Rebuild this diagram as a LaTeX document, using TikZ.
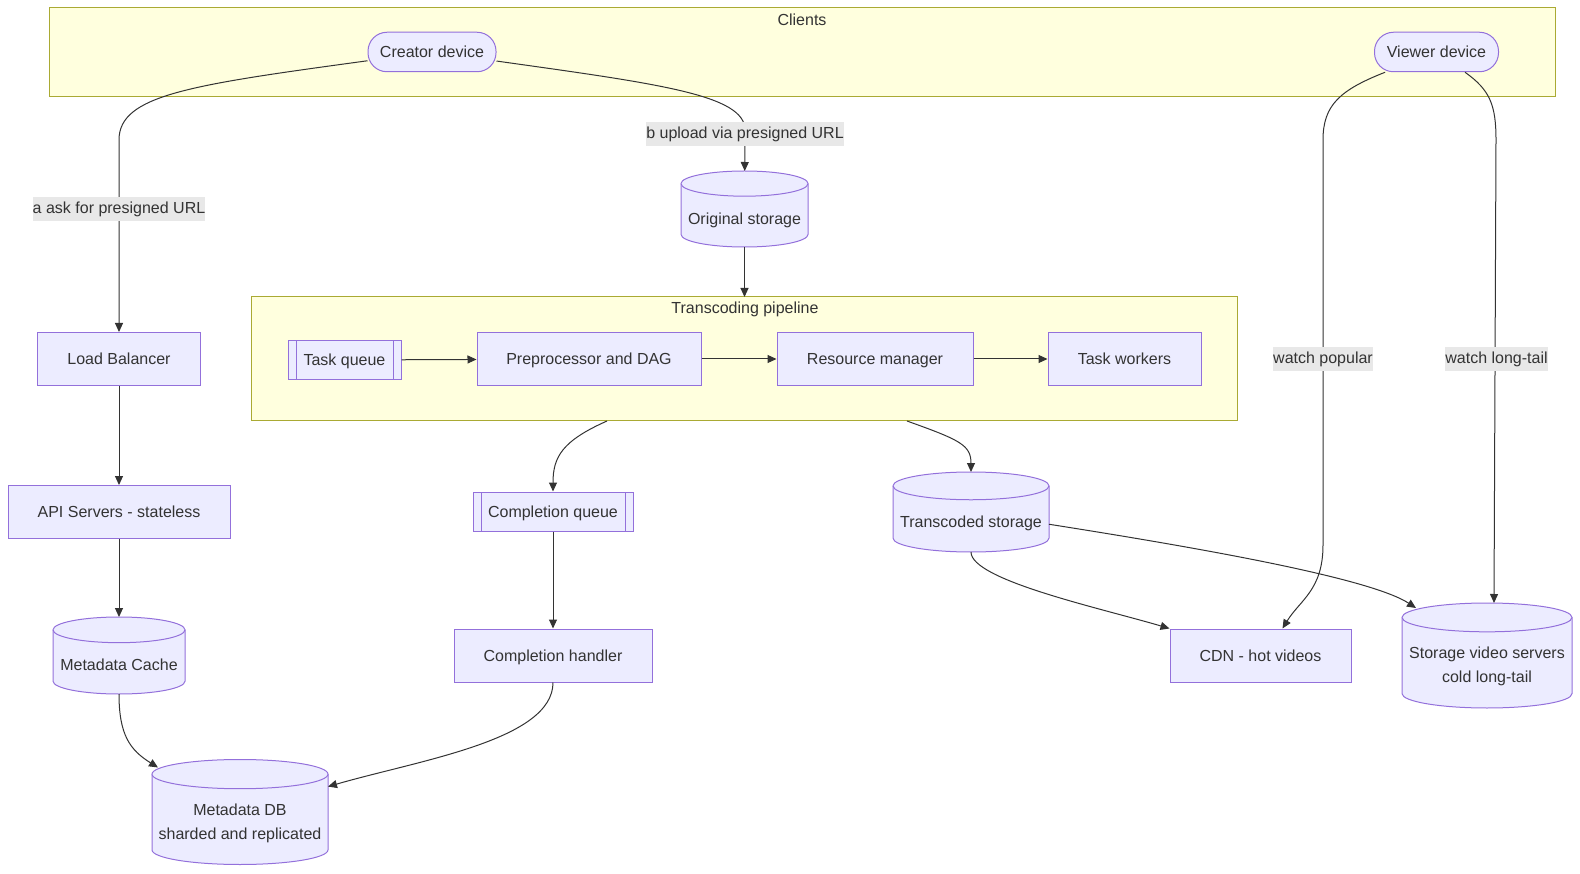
\documentclass[tikz,border=0pt]{standalone}
\usepackage{fontspec}
\setmainfont{Liberation Sans}
\usepackage{tikz}
\usetikzlibrary{
    positioning,
    arrows.meta
}
\definecolor{nodeFill}{HTML}{ECECFF}
\definecolor{nodeLine}{HTML}{9370DB}
\definecolor{groupFill}{HTML}{FFFFDE}
\definecolor{groupLine}{HTML}{AAAA33}
\definecolor{inkGrey}{HTML}{333333}
\definecolor{labelGrey}{HTML}{E8E8E8}

% storage cylinder: [text options]{name}{x}{y}{width}{height}{text}
\newcommand{\storenode}[7][]{%
    \node[storeframe, minimum width=#5pt, minimum height=#6pt] (#2) at (#3,#4) {};
    \pgfmathsetmacro{\caprx}{#5/2}
    \pgfmathsetmacro{\capry}{#5/2/(2.5+#5/50)}
    \filldraw[storeline] ([yshift=-\capry pt]#2.north west) -- ([yshift=\capry pt]#2.south west)
        arc[start angle=180, end angle=360, x radius=\caprx pt, y radius=\capry pt]
        -- ([yshift=-\capry pt]#2.north east)
        arc[start angle=0, end angle=180, x radius=\caprx pt, y radius=\capry pt] -- cycle;
    \draw[storeline] ([yshift=-\capry pt]#2.north west)
        arc[start angle=180, end angle=360, x radius=\caprx pt, y radius=\capry pt];
    \node[storetext, #1] (#2-text) at ([yshift=-9.5pt]#2.center) {#7};
}

\begin{document}
\begin{tikzpicture}[x=1pt, y=-1pt,
    every node/.style={text=inkGrey, font=\fontsize{16}{24}\selectfont},
    group/.style={draw=groupLine, fill=groupFill, line width=1pt},
    box/.style={draw=nodeLine, fill=nodeFill, line width=1pt, minimum height=53pt,
        inner sep=0pt, text height=14pt, text depth=2.5pt},
    device/.style={box, rounded corners=19pt, minimum height=39.5pt},
    queue/.style={box, minimum height=38.5pt,
        path picture={
            \draw[nodeLine, line width=1pt] ([xshift=8pt]path picture bounding box.north west) -- ([xshift=8pt]path picture bounding box.south west);
            \draw[nodeLine, line width=1pt] ([xshift=-8pt]path picture bounding box.north east) -- ([xshift=-8pt]path picture bounding box.south east);
        }},
    storeframe/.style={inner sep=0pt, outer sep=0pt},
    storeline/.style={draw=nodeLine, fill=nodeFill, line width=1pt},
    storetext/.style={inner sep=0pt, align=center, text height=14pt, text depth=2.5pt},
    edgelabel/.style={fill=labelGrey, inner xsep=0pt, inner ysep=4pt, text height=13pt, text depth=3pt},
    link/.style={draw=inkGrey, line width=1pt, -{Triangle[length=9pt, width=8pt]}}
]
    \useasboundingbox (0,0) rectangle (1580,874);

    % clusters
    \draw[group] (49.5,8) rectangle (1555,96.5);
    \node (clientsTitle) at (802,20) {Clients};
    \draw[group] (251,297) rectangle (1237.5,421);
    \coordinate (pipeTop) at (744.5,297);
    \coordinate (pipeOutA) at (607,421);
    \coordinate (pipeOutB) at (907,421);
    \node (pipeTitle) at (745,309) {Transcoding pipeline};

    % clients
    \node[device, minimum width=128pt] (creator) at (432,52) {Creator device};
    \node[device, minimum width=124pt] (viewer) at (1436.5,52) {Viewer device};

    % upload side
    \storenode{origStore}{744.5}{209}{127}{76}{Original storage}
    \node[box, minimum width=163pt] (lb) at (119,359) {Load Balancer};
    \node[box, minimum width=222pt] (api) at (119,512) {API Servers - stateless};
    \storenode{metaCache}{119}{655.5}{132}{77}{Metadata Cache}
    \storenode[yshift=-12pt]{metaDB}{240}{812}{176}{105}{Metadata DB\\sharded and replicated}

    % pipeline
    \node[queue, minimum width=113pt] (taskQ) at (344.5,360) {Task queue};
    \node[box, minimum width=224pt] (prep) at (589,359) {Preprocessor and DAG};
    \node[box, minimum width=196pt] (resMgr) at (875,359) {Resource manager};
    \node[box, minimum width=153pt] (workers) at (1124.5,359) {Task workers};

    % after pipeline
    \node[queue, minimum width=160pt, minimum height=39pt] (doneQ) at (553,511.5) {Completion queue};
    \node[box, minimum width=198pt] (doneH) at (553,655.5) {Completion handler};
    \storenode{codedStore}{971}{512}{156}{80}{Transcoded storage}
    \node[box, minimum width=181pt] (cdn) at (1260.5,655.5) {CDN - hot videos};
    \storenode[yshift=-12pt]{coldStore}{1487}{655.5}{170}{105}{Storage video servers\\cold long-tail}

    % connectors
    \draw[link] (creator) .. controls (190,85) and (119,95) .. (119,140) -- (lb);
    \draw[link] (creator) .. controls (660,84) and (745,95) .. (745,130) -- (origStore);
    \draw[link] (origStore) -- (pipeTop);
    \draw[link] (taskQ) -- (prep);
    \draw[link] (prep) -- (resMgr);
    \draw[link] (resMgr) -- (workers);
    \draw[link] (lb) -- (api);
    \draw[link] (api) -- (metaCache);
    \draw[link] (metaCache.south) .. controls (119,735) and (130,750) .. ([xshift=6pt, yshift=-8pt]metaDB.north west);
    \draw[link] (pipeOutA) .. controls (562,441) and (553,457) .. (doneQ.north);
    \draw[link] (pipeOutB) .. controls (960,440) and (971,445) .. (codedStore.north);
    \draw[link] (doneQ) -- (doneH);
    \draw[link] (doneH.south) .. controls (553,740) and (420,760) .. (metaDB);
    \draw[link] (codedStore.south) .. controls (971,580) and (1100,608) .. (cdn.north west);
    \draw[link] (codedStore) .. controls (1200,548) and (1370,578) .. ([xshift=14pt, yshift=-5pt]coldStore.north west);
    \draw[link] (viewer) .. controls (1340,90) and (1323,105) .. (1323,140) -- (1323,545) .. controls (1323,590) and (1300,600) .. ([xshift=22pt]cdn.north);
    \draw[link] (viewer) .. controls (1490,90) and (1496,105) .. (1496,140) -- ([xshift=7pt]coldStore.north);

    % labels
    \node[edgelabel] (askLabel) at (119,209) {a ask for presigned URL};
    \node[edgelabel] (uploadLabel) at (745,134) {b upload via presigned URL};
    \node[edgelabel] (popLabel) at (1323,359) {watch popular};
    \node[edgelabel] (tailLabel) at (1496.5,359) {watch long-tail};
\end{tikzpicture}
\end{document}
